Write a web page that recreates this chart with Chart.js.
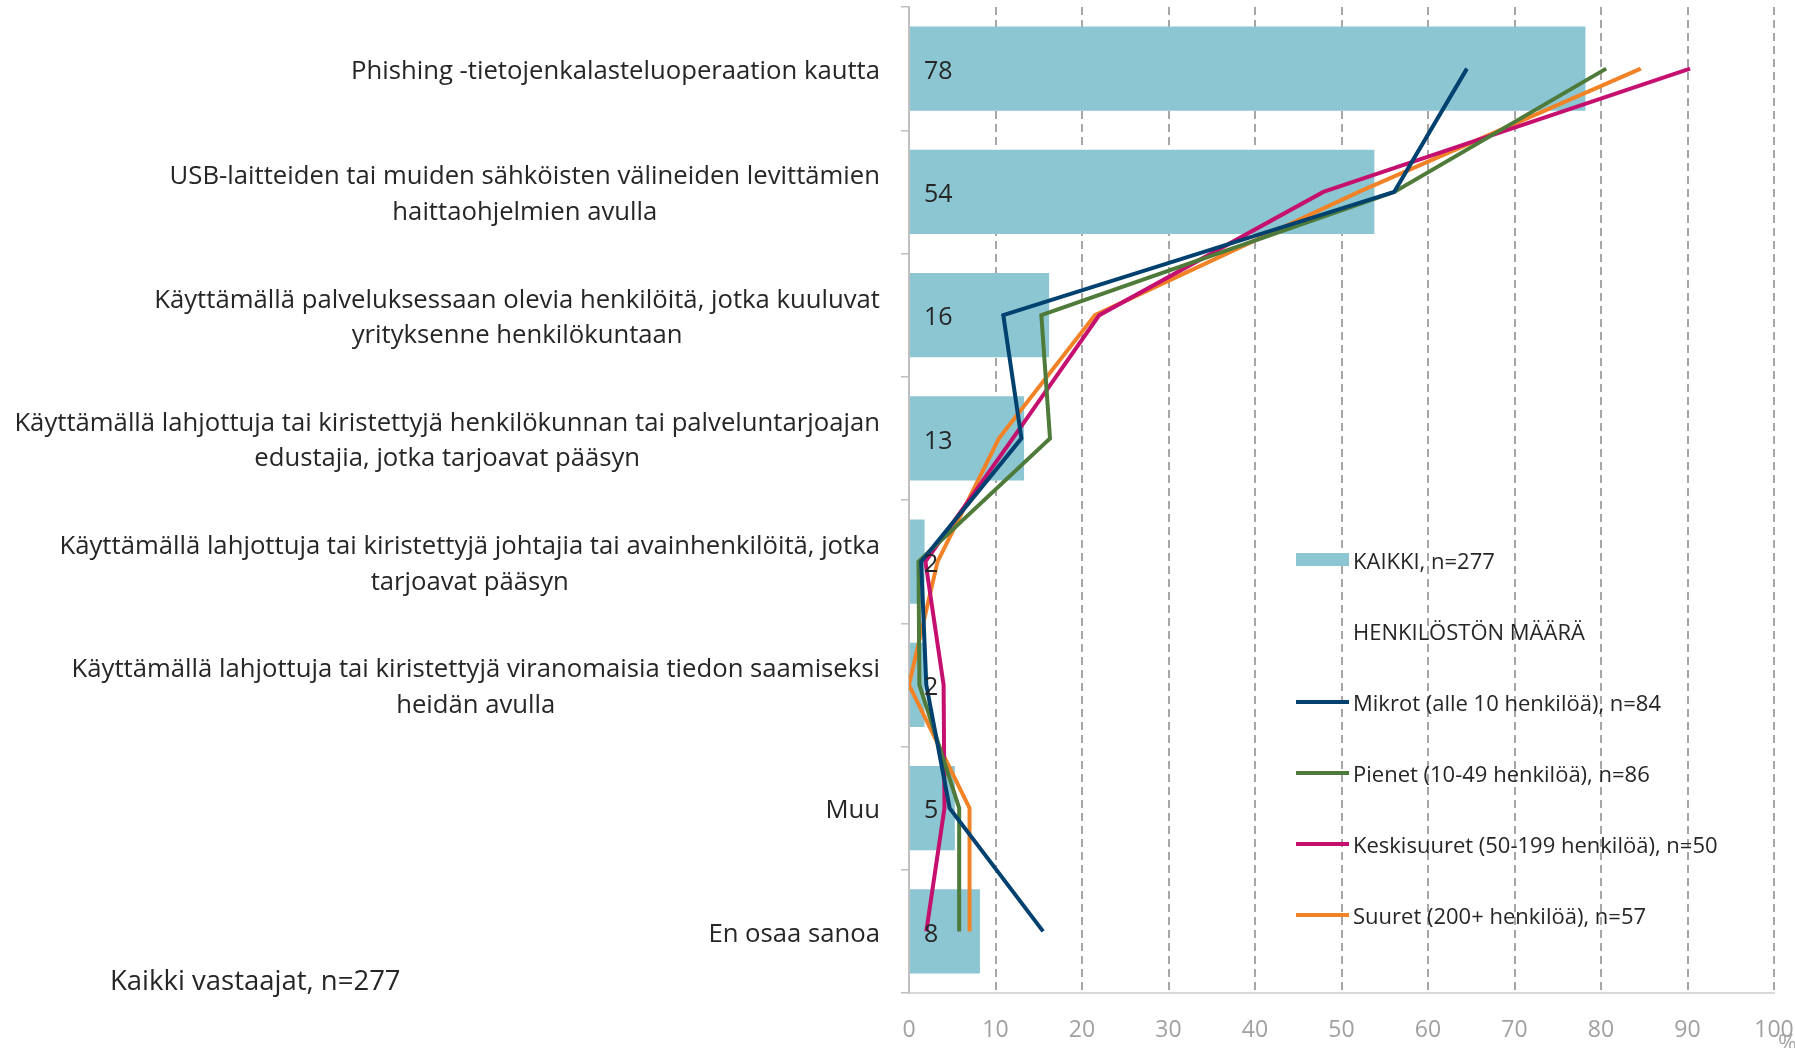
<!DOCTYPE html>
<html>
<head>
<meta charset="utf-8">
<script src="https://cdn.jsdelivr.net/npm/chart.js@4.4.0/dist/chart.umd.min.js"></script>
<style>
  html, body { margin: 0; padding: 0; background: #fff; }
  #wrap { position: relative; width: 1795px; height: 1048px; }
  #legend { position: absolute; left: 1296px; top: 524px; font-family: 'Open Sans', sans-serif; font-size: 22px; color: #262626; }
  #legend .item { height: 71px; display: flex; align-items: center; white-space: nowrap; }
  #legend .sw { width: 53px; margin-right: 4px; }
  #note { position: absolute; left: 110px; top: 961px; font-family: 'Open Sans', sans-serif; font-size: 27.5px; color: #262626; }
</style>
</head>
<body>
<div id="wrap">
  <canvas id="myChart" width="1795" height="1048"></canvas>
  <div id="legend"></div>
  <div id="note">Kaikki vastaajat, n=277</div>
</div>
<script>
'use strict';

// category labels, one array of lines per category
let categories = [
    ['Phishing -tietojenkalasteluoperaation kautta'],
    ['USB-laitteiden tai muiden sähköisten välineiden levittämien', 'haittaohjelmien avulla'],
    ['Käyttämällä palveluksessaan olevia henkilöitä, jotka kuuluvat', 'yrityksenne henkilökuntaan'],
    ['Käyttämällä lahjottuja tai kiristettyjä henkilökunnan tai palveluntarjoajan', 'edustajia, jotka tarjoavat pääsyn'],
    ['Käyttämällä lahjottuja tai kiristettyjä johtajia tai avainhenkilöitä, jotka', 'tarjoavat pääsyn'],
    ['Käyttämällä lahjottuja tai kiristettyjä viranomaisia tiedon saamiseksi', 'heidän avulla'],
    ['Muu'],
    ['En osaa sanoa']
];
// series values (%)
let kaikki = [78.2, 53.8, 16.2, 13.3, 1.8, 1.8, 5.3, 8.2];
let mikrot = [64.5, 56.1, 10.9, 13.0, 1.4, 2.0, 4.7, 15.5];
let pienet = [80.6, 56.1, 15.3, 16.3, 1.1, 1.2, 5.8, 5.8];
let keskisuuret = [90.3, 47.9, 22.0, 12.0, 1.9, 4.0, 4.1, 2.0];
let suuret = [84.6, 52.0, 21.5, 10.4, 3.3, 0, 7.0, 7.0];
// x axis ticks
let xTicks = [0, 10, 20, 30, 40, 50, 60, 70, 80, 90, 100];

let fontName = "'Open Sans', sans-serif";
let textColor = '#262626';

//line dataset helper
function lineSet(label, data, color) {
    return {
        type: 'line',
        label: label,
        data: data,
        indexAxis: 'y',
        borderColor: color,
        backgroundColor: color,
        borderWidth: 4,
        pointRadius: 0,
        tension: 0,
        order: 0
    };
}

//draws the category labels, bar values and the % sign
let textPlugin = {
    id: 'textPlugin',
    afterDatasetsDraw(chart) {
        let ctx = chart.ctx;
        let xScale = chart.scales.x;
        let yScale = chart.scales.y;
        ctx.save();
        ctx.font = '25px ' + fontName;
        ctx.fillStyle = textColor;
        ctx.textBaseline = 'middle';
        ctx.textAlign = 'left';
        for (let i = 0; i < kaikki.length; i++) {
            ctx.fillText(Math.round(kaikki[i]), xScale.getPixelForValue(0) + 15, yScale.getPixelForValue(i) + 3);
        }
        //category labels: block right aligned, lines centered
        ctx.font = '25.7px ' + fontName;
        ctx.textAlign = 'center';
        let right = chart.chartArea.left - 29;
        let lineH = 35.5;
        for (let i = 0; i < categories.length; i++) {
            let lines = categories[i];
            let widest = 0;
            lines.forEach(l => { widest = Math.max(widest, ctx.measureText(l).width); });
            let cy = yScale.getPixelForValue(i) + 3 - (lines.length - 1) * lineH / 2;
            lines.forEach((l, j) => ctx.fillText(l, right - widest / 2, cy + j * lineH));
        }
        ctx.font = '23px ' + fontName;
        ctx.fillStyle = '#a6a6a6';
        ctx.textAlign = 'left';
        ctx.fillText('%', chart.chartArea.right + 4, chart.height - 4);
        ctx.restore();
    }
};

let ctx = document.getElementById('myChart').getContext('2d');
let chart = new Chart(ctx, {
    type: 'bar',
    data: {
        labels: categories,
        datasets: [{
            type: 'bar',
            label: 'KAIKKI, n=277',
            data: kaikki,
            indexAxis: 'y',
            backgroundColor: '#8cc6d3',
            categoryPercentage: 0.684,
            barPercentage: 1,
            order: 1
        },
        lineSet('Mikrot (alle 10 henkilöä), n=84', mikrot, '#00416f'),
        lineSet('Pienet (10-49 henkilöä), n=86', pienet, '#4e7a3a'),
        lineSet('Keskisuuret (50-199 henkilöä), n=50', keskisuuret, '#c6106f'),
        lineSet('Suuret (200+ henkilöä), n=57', suuret, '#f28226')]
    },
    options: {
        indexAxis: 'y',
        responsive: false,
        animation: false,
        layout: { padding: { left: 0, top: 7, right: 0, bottom: 0 } },
        plugins: { legend: { display: false }, tooltip: { enabled: false } },
        scales: {
            x: {
                type: 'linear',
                position: 'bottom',
                min: 0,
                max: 100,
                afterBuildTicks: s => { s.ticks = xTicks.map(v => ({ value: v })); },
                afterFit: s => { s.height = 55; s.paddingRight = 21; },
                grid: { color: '#a6a6a6', lineWidth: 2, drawTicks: false },
                border: { color: '#d9d9d9', width: 2, dash: [8, 5] },
                ticks: { color: '#a0a0a0', font: { family: fontName, size: 23 }, padding: 24 }
            },
            y: {
                type: 'category',
                position: 'left',
                afterFit: s => { s.width = 909; },
                grid: { drawOnChartArea: false, offset: true, tickLength: 8, color: '#bfbfbf', lineWidth: 1.5 },
                border: { color: '#bfbfbf', width: 2 },
                ticks: { display: false }
            }
        }
    },
    plugins: [textPlugin]
});

//html legend built from the datasets
let legendBox = document.getElementById('legend');
chart.data.datasets.forEach((ds, i) => {
    let item = document.createElement('div');
    item.className = 'item';
    let sw = document.createElement('div');
    sw.className = 'sw';
    sw.style.height = ds.type === 'bar' ? '13px' : '4px';
    sw.style.background = ds.type === 'bar' ? ds.backgroundColor : ds.borderColor;
    item.appendChild(sw);
    let txt = document.createElement('span');
    txt.textContent = ds.label;
    item.appendChild(txt);
    legendBox.appendChild(item);
    if (i === 0) {
        let head = document.createElement('div');
        head.className = 'item';
        head.innerHTML = '<div class="sw" style="height:4px"></div><span>HENKILÖSTÖN MÄÄRÄ</span>';
        legendBox.appendChild(head);
    }
});
</script>
</body>
</html>
